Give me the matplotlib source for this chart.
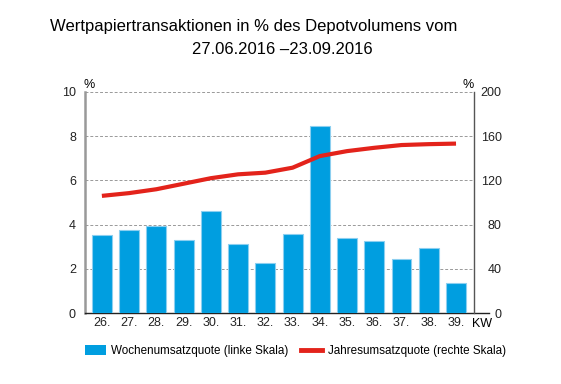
import numpy as np
import matplotlib.pyplot as plt
from matplotlib.patches import Patch
from matplotlib.lines import Line2D

plt.rcParams['font.family'] = ['Liberation Sans', 'DejaVu Sans']

# Calendar weeks (KW) 26 to 39, 2016
weeks = ["26.", "27.", "28.", "29.", "30.", "31.", "32.", "33.",
         "34.", "35.", "36.", "37.", "38.", "39."]
# Weekly turnover ratio in % (left scale)
weekly = [3.53, 3.74, 3.94, 3.29, 4.62, 3.14, 2.27, 3.56,
          8.48, 3.39, 3.26, 2.44, 2.93, 1.35]
# Annual turnover ratio in % (right scale)
annual = [106, 108.5, 112, 117, 122, 125.5, 127, 131.5,
          142, 146.5, 149.5, 152, 152.8, 153.3]

BLUE = "#009ee0"
RED = "#e3231b"

fig = plt.figure(figsize=(5.61, 3.84), dpi=100)
ax = fig.add_axes([85 / 561, 1 - 313 / 384, (474 - 85) / 561, (313 - 92) / 384])
ax2 = ax.twinx()

x = np.arange(len(weeks))
ax.bar(x, weekly, width=0.73, color=BLUE, edgecolor="#8ccff0", linewidth=0.8, zorder=3)
ax2.plot(x, annual, color=RED, linewidth=3, solid_capstyle="butt", zorder=4)

ax.set_xlim(-0.62, 13.66)
ax.set_ylim(0, 10)
ax2.set_ylim(0, 200)
ax.set_yticks([0, 2, 4, 6, 8, 10])
ax2.set_yticks([0, 40, 80, 120, 160, 200])
ax.set_xticks(x)
ax.set_xticklabels(weeks)

for yv in [2, 4, 6, 8, 10]:
    ax.axhline(yv, color="#999999", linestyle=(0, (3, 2)), linewidth=0.7, zorder=1)

ax.tick_params(axis="x", length=0, labelsize=9, colors="#222222", pad=3)
ax.tick_params(axis="y", length=0, labelsize=9, colors="#222222", pad=6.5)
# right-hand labels are right-aligned in the original
ax2.tick_params(axis="y", length=0, labelsize=9, colors="#222222", pad=20)
for lbl in ax2.get_yticklabels():
    lbl.set_horizontalalignment("right")

for a in (ax, ax2):
    a.spines["top"].set_visible(False)
ax.spines["left"].set_color("#999999")
ax.spines["left"].set_linewidth(1.8)
ax.spines["right"].set_visible(False)
ax2.spines["left"].set_visible(False)
ax2.spines["bottom"].set_visible(False)
ax2.spines["right"].set_color("#555555")
ax2.spines["right"].set_linewidth(1.0)
ax.spines["bottom"].set_color("#222222")
ax.spines["bottom"].set_linewidth(1.0)
ax.spines["bottom"].set_bounds(-0.62, 14.2)
ax.spines["bottom"].set_clip_on(False)

ax.set_zorder(ax2.get_zorder() - 1)
ax.patch.set_visible(False)

# Unit labels and the KW marker
fig.text(89 / 561, 1 - 85 / 384, "%", fontsize=9, ha="center", va="center")
fig.text(468 / 561, 1 - 85 / 384, "%", fontsize=9, ha="center", va="center")
fig.text(482 / 561, 1 - 324 / 384, "KW", fontsize=9, ha="center", va="center")

# Title
fig.text(254 / 561, 1 - 27 / 384, "Wertpapiertransaktionen in % des Depotvolumens vom",
         fontsize=12, ha="center", va="center")
fig.text(282 / 561, 1 - 50 / 384, "27.06.2016 \u201323.09.2016",
         fontsize=12, ha="center", va="center")

handles = [Patch(facecolor=BLUE, edgecolor="none"),
           Line2D([0], [0], color=RED, linewidth=3.5)]
labels = ["Wochenumsatzquote (linke Skala)", "Jahresumsatzquote (rechte Skala)"]
fig.legend(handles, labels, loc="center left", bbox_to_anchor=(74 / 561, 1 - 351 / 384),
           ncol=2, frameon=False, fontsize=8.4, handlelength=1.8, handleheight=0.9,
           handletextpad=0.5, columnspacing=1.1)

fig.savefig("out.png", dpi=100)
